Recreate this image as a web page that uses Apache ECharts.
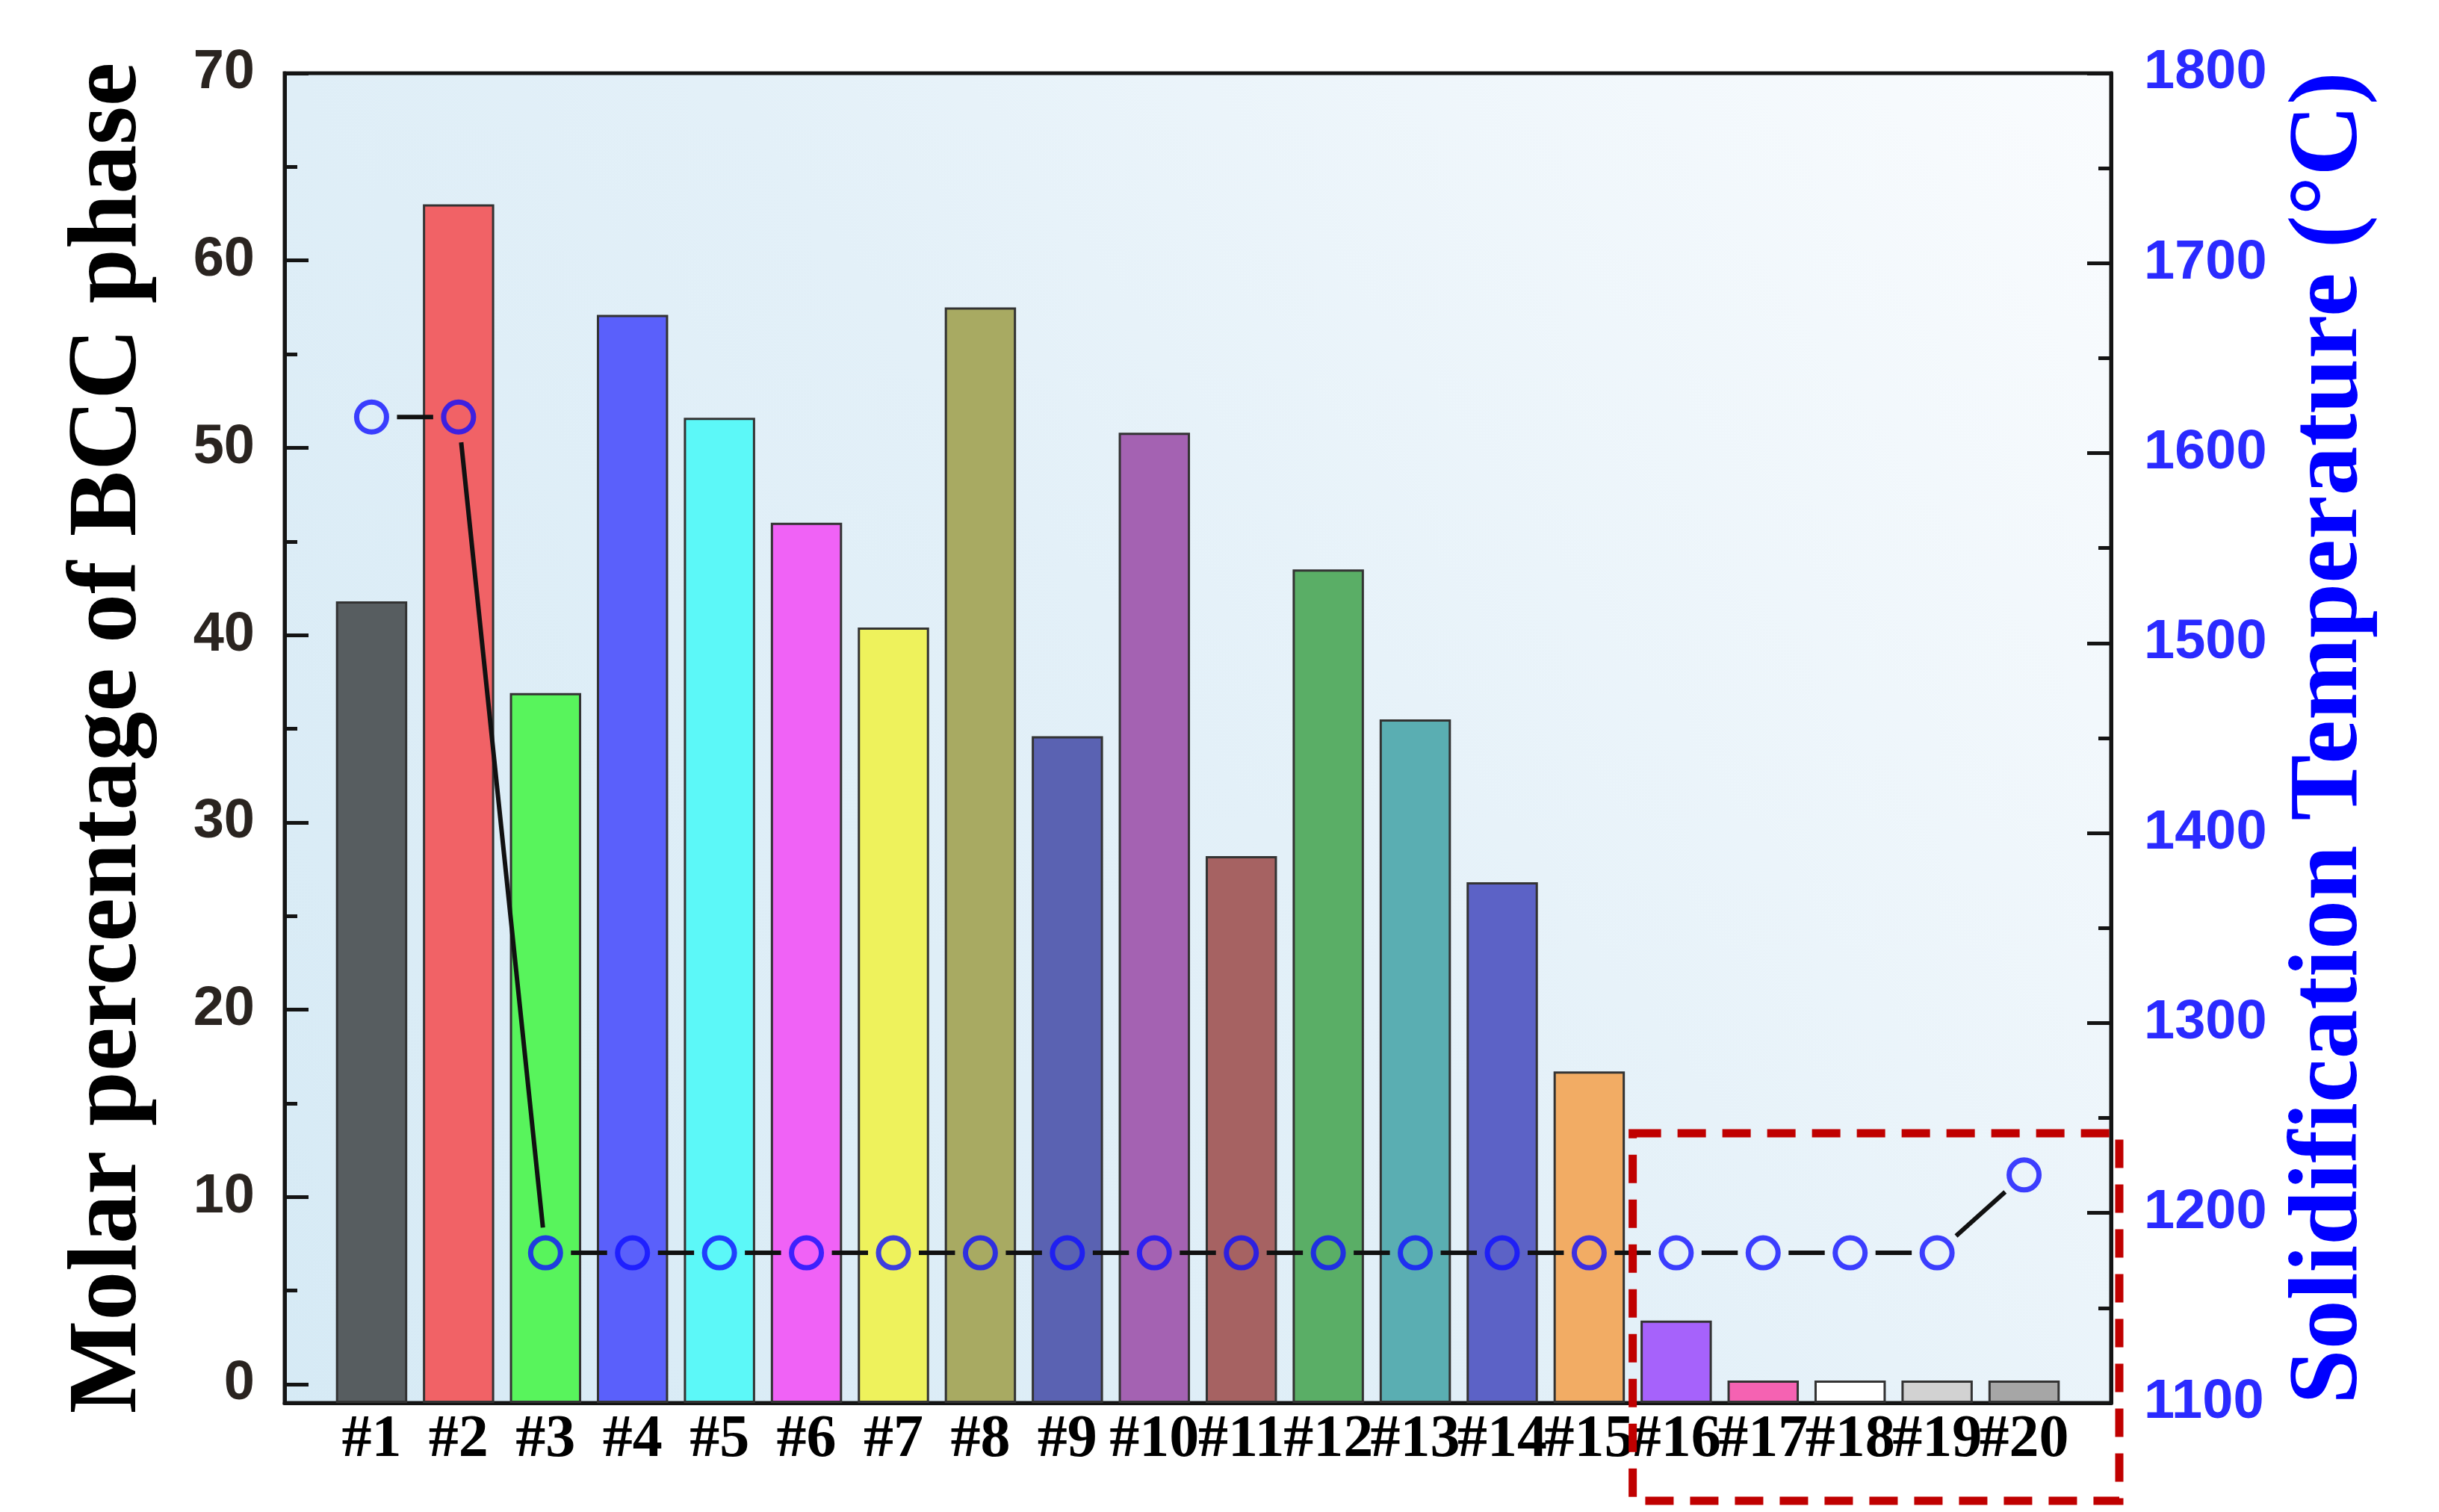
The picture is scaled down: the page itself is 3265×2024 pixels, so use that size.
<!DOCTYPE html>
<html><head><meta charset="utf-8">
<script src="https://cdn.jsdelivr.net/npm/echarts@6/dist/echarts.min.js"></script>
<style>html,body{margin:0;padding:0;background:#fff}#c{width:3265px;height:2024px}</style>
</head><body><div id="c"></div>
<script>
// ---- data ----
const categories = ['#1','#2','#3','#4','#5','#6','#7','#8','#9','#10','#11','#12','#13','#14','#15','#16','#17','#18','#19','#20'];
const bccPercent = [41.8, 63.0, 36.9, 57.1, 51.6, 46.0, 40.4, 57.5, 34.6, 50.8, 28.2, 43.5, 35.5, 26.8, 16.7, 3.4, 0.2, 0.2, 0.2, 0.2];
const solidTemp = [1619, 1619, 1179, 1179, 1179, 1179, 1179, 1179, 1179, 1179, 1179, 1179, 1179, 1179, 1179, 1179, 1179, 1179, 1179, 1220];
const barColors = ['#575d60','#f16266','#58f45c','#5a60fb','#5cf8f8','#f062f6','#eef25c','#a8aa62','#5a62b2','#a462b2','#a66262','#5aae66','#5aaeb2','#5c62c6','#f2ac64','#a662fb','#f562b2','#ffffff','#d2d2d2','#a6a6a6'];
const leftTickLabels = [0, 10, 20, 30, 40, 50, 60, 70];
const leftMinorTicks = [5, 15, 25, 35, 45, 55, 65];
const rightTickLabels = [1100, 1200, 1300, 1400, 1500, 1600, 1700, 1800];

// ---- layout constants ----
const W = 3265, H = 2024;
const G = {left: 381, right: 439, top: 98, bottom: 146};
const MARKER = 40, SEG_GAP = 34;

const xData = [''].concat(categories).concat(['']);
const barData = ['-'].concat(bccPercent.map((v, i) => ({value: v, itemStyle: {color: barColors[i]}}))).concat(['-']);
const markerData = ['-'].concat(solidTemp).concat(['-']);
const segData = [];
for (let k = 1; k < solidTemp.length; k++) segData.push([k, solidTemp[k - 1], k + 1, solidTemp[k]]);

const chart = echarts.init(document.getElementById('c'), null, {renderer: 'canvas'});
const serif = 'Liberation Serif, Times New Roman, serif';
const sans = 'Liberation Sans, Arial, sans-serif';

chart.setOption({
  animation: false,
  backgroundColor: '#ffffff',
  grid: {
    left: G.left, right: G.right, top: G.top, bottom: G.bottom,
    show: true, borderColor: '#141414', borderWidth: 5,
    backgroundColor: new echarts.graphic.LinearGradient(0, 1, 1, 0, [
      {offset: 0, color: '#d6eaf5'},
      {offset: 0.5, color: '#e3f0f8'},
      {offset: 1, color: '#fafcfe'}
    ])
  },
  xAxis: {
    type: 'category', data: xData, boundaryGap: false,
    axisLine: {show: true, onZero: false, lineStyle: {color: '#141414', width: 5}},
    axisTick: {show: false},
    splitLine: {show: false},
    axisLabel: {interval: 0, fontFamily: serif, fontWeight: 'bold', fontSize: 80, color: '#000', margin: 10}
  },
  yAxis: [
    {
      type: 'value', min: -1, max: 70, position: 'left', startValue: -1,
      axisLine: {show: true, onZero: false, lineStyle: {color: '#141414', width: 5}},
      axisTick: {show: true, inside: true, length: 32, customValues: leftTickLabels, lineStyle: {color: '#141414', width: 5}},
      axisLabel: {customValues: leftTickLabels, fontFamily: sans, fontWeight: 'bold', fontSize: 74, color: '#2a2420', margin: 40},
      splitLine: {show: false},
      name: 'Molar percentage of BCC phase', nameLocation: 'middle', nameRotate: 90, nameGap: 168,
      nameTextStyle: {fontFamily: serif, fontWeight: 'bold', fontSize: 132, color: '#000'}
    },
    {
      type: 'value', min: 1100, max: 1800, interval: 100, position: 'right',
      axisLine: {show: true, onZero: false, lineStyle: {color: '#141414', width: 5}},
      axisTick: {show: true, inside: true, length: 32, lineStyle: {color: '#141414', width: 5}},
      minorTick: {show: true, splitNumber: 2, length: 17, lineStyle: {color: '#141414', width: 5}},
      axisLabel: {fontFamily: sans, fontWeight: 'bold', fontSize: 74, color: '#2a2aff', margin: 44, formatter: function (v) { return String(v); }},
      splitLine: {show: false},
      name: 'Solidification Temperature (°C)', nameLocation: 'middle', nameRotate: 90, nameGap: 228,
      nameTextStyle: {fontFamily: serif, fontWeight: 'bold', fontSize: 132, color: '#0000ff'}
    },
    {
      type: 'value', min: -1, max: 70, position: 'left',
      axisLine: {show: false},
      axisTick: {show: true, inside: true, length: 17, customValues: leftMinorTicks, lineStyle: {color: '#141414', width: 5}},
      axisLabel: {show: false},
      splitLine: {show: false}
    }
  ],
  series: [
    {
      type: 'bar', xAxisIndex: 0, yAxisIndex: 0, data: barData, barWidth: '82%',
      itemStyle: {borderColor: '#333333', borderWidth: 3}, z: 2
    },
    {
      type: 'custom', xAxisIndex: 0, yAxisIndex: 1, data: segData,
      encode: {x: [0, 2], y: [1, 3]}, z: 3, clip: false,
      renderItem: function (params, api) {
        const a = api.coord([api.value(0), api.value(1)]);
        const b = api.coord([api.value(2), api.value(3)]);
        const dx = b[0] - a[0], dy = b[1] - a[1];
        const L = Math.hypot(dx, dy);
        if (L <= 2 * SEG_GAP) return null;
        const ux = dx / L, uy = dy / L;
        return {
          type: 'line',
          shape: {x1: a[0] + ux * SEG_GAP, y1: a[1] + uy * SEG_GAP, x2: b[0] - ux * SEG_GAP, y2: b[1] - uy * SEG_GAP},
          style: {stroke: '#111111', lineWidth: 6}
        };
      }
    },
    {
      type: 'scatter', xAxisIndex: 0, yAxisIndex: 1, data: markerData,
      symbol: 'circle', symbolSize: MARKER, z: 4,
      itemStyle: {color: 'rgba(0,0,0,0)', borderColor: '#1010ff', borderWidth: 7}
    }
  ]
});

// dashed annotation box around #16-#20
const x15 = chart.convertToPixel({xAxisIndex: 0}, 15);
const x16 = chart.convertToPixel({xAxisIndex: 0}, 16);
const boxLeft = (x15 + x16) / 2;
const boxTop = chart.convertToPixel({yAxisIndex: 1}, 1242);
const boxRight = W - G.right + 11;
const boxBottom = H - G.bottom + 131;
chart.setOption({
  graphic: [{
    type: 'rect', z: 100,
    shape: {x: boxLeft, y: boxTop, width: boxRight - boxLeft, height: boxBottom - boxTop},
    style: {fill: null, stroke: '#c00000', lineWidth: 11, lineDash: [38, 22]}
  }]
});
</script>
</body></html>
